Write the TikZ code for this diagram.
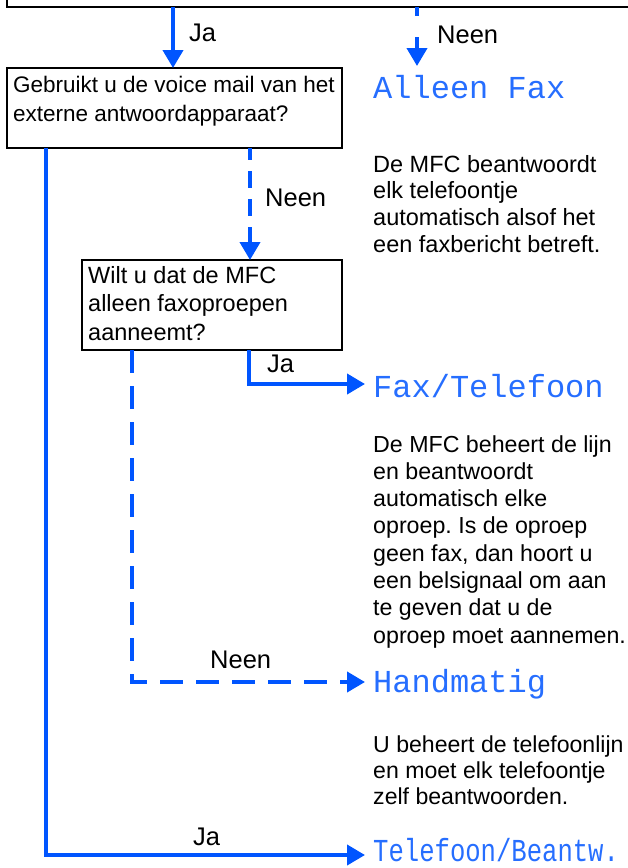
\documentclass[tikz,border=0pt]{standalone}
\usepackage{fontspec}
\setmainfont{Liberation Sans}
\newfontfamily\lcdfont{Liberation Mono}
\usepackage{graphicx}
\usetikzlibrary{arrows.meta}
\definecolor{fblue}{RGB}{0,85,255}
\frenchspacing
\tikzset{
  qbox/.style={draw=black, line width=2.6pt, fill=white, inner sep=0pt, outer sep=0pt},
  flow/.style={draw=fblue, line width=4pt, -{Triangle[width=20pt,length=18pt]}},
  lbl/.style={font=\fontsize{25.5}{30}\selectfont, inner sep=0pt, anchor=base west},
  qtext/.style={align=left, inner sep=0pt, anchor=north west},
  para/.style={align=left, inner sep=0pt, anchor=north west},
  outcome/.style={font=\lcdfont\fontsize{32}{32}\selectfont, text=fblue!85, inner sep=0pt, anchor=base west},
}
\begin{document}
\begin{tikzpicture}[x=1pt,y=-1pt]
\useasboundingbox (0,0) rectangle (628,868);
\clip (0,0) rectangle (628,868);

% question boxes
\node[qbox, minimum width=700pt, minimum height=60pt, anchor=south west] (q0) at (7,7) {};
\node[qbox, minimum width=335pt, minimum height=80pt, anchor=north west] (q1) at (7,68) {};
\node[qbox, minimum width=260pt, minimum height=90pt, anchor=north west] (q2) at (82,260) {};

\node[qtext, font=\fontsize{22.5}{29}\selectfont] (q1t) at (13,75.5)
  {Gebruikt u de voice mail van het\\externe antwoordapparaat?};
\node[qtext, font=\fontsize{23.5}{28.5}\selectfont] (q2t) at (88,266)
  {Wilt u dat de MFC\\alleen faxoproepen\\aanneemt?};

% outcomes
\node[outcome] (r1) at (373,98) {Alleen Fax};
\node[outcome] (r2) at (373,397) {Fax/Telefoon};
\node[outcome] (r3) at (373,692) {Handmatig};
\node[outcome] (r4) at (373,861) {\scalebox{0.8}[1]{Telefoon/Beantw.}};

% descriptions
\node[para, font=\fontsize{23.5}{26.7}\selectfont] (d1) at (373,155)
  {De MFC beantwoordt\\elk telefoontje\\automatisch alsof het\\een faxbericht betreft.};
\node[para, font=\fontsize{23.2}{27.3}\selectfont] (d2) at (373,435)
  {De MFC beheert de lijn\\en beantwoordt\\automatisch elke\\oproep. Is de oproep\\geen fax, dan hoort u\\een belsignaal om aan\\te geven dat u de\\oproep moet aannemen.};
\node[para, font=\fontsize{23.1}{26}\selectfont] (d3) at (373,736)
  {U beheert de telefoonlijn\\en moet elk telefoontje\\zelf beantwoorden.};

% connector columns and tips
\coordinate (xa) at (173,0);
\coordinate (xn) at (417,0);
\coordinate (xm) at (250,0);
\coordinate (xj) at (249,0);
\coordinate (xk) at (132,0);
\coordinate (xl) at (46,0);
\coordinate (tAF) at (417,66);
\coordinate (tFT) at (365,384);
\coordinate (tHM) at (365,682);
\coordinate (tTB) at (365,855);

% connectors
\draw[flow] (q0.south -| xa) -- (q1.north -| xa);
\draw[flow, dash pattern=on 9pt off 21pt on 40pt off 10pt] (q0.south -| xn) -- (tAF);
\draw[flow, dash pattern=on 17pt off 11pt, dash phase=5pt] (q1.south -| xm) -- (q2.north -| xm);
\draw[flow] (q2.south -| xj) |- (tFT);
\draw[flow, dash pattern=on 23pt off 13pt] (q2.south -| xk) |- (tHM);
\draw[flow] (q1.south -| xl) |- (tTB);

% labels
\node[lbl] (ja1) at (189,41) {Ja};
\node[lbl] (nee1) at (437,43) {Neen};
\node[lbl] (nee2) at (265,206) {Neen};
\node[lbl] (ja2) at (267,372) {Ja};
\node[lbl] (nee3) at (210,668) {Neen};
\node[lbl] (ja3) at (193,845) {Ja};
\end{tikzpicture}
\end{document}
